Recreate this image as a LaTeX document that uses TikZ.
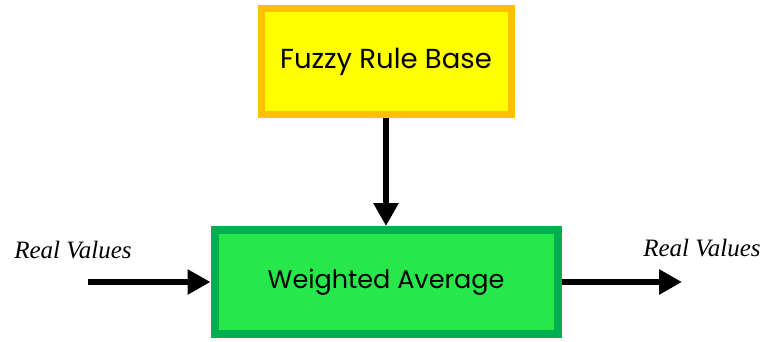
\documentclass[tikz,border=0pt]{standalone}
\usepackage{fontspec}
\setmainfont{Liberation Serif}
\newfontfamily\boxfont{Poppins}
\definecolor{RuleFill}{RGB}{255, 255, 0}
\definecolor{RuleEdge}{RGB}{255, 192, 0}
\definecolor{AvgFill}{RGB}{38, 232, 75}
\definecolor{AvgEdge}{RGB}{0, 176, 80}
\usetikzlibrary{arrows.meta, positioning}

\begin{document}
\begin{tikzpicture}[
    x=1pt, y=-1pt,
    node distance=108pt,
    block/.style={line width=7pt, align=center},
    rulebox/.style={block, draw=RuleEdge, fill=RuleFill,
                    minimum width=250pt, minimum height=106pt,
                    font=\boxfont\fontsize{27.5}{32}\selectfont},
    avgbox/.style={block, draw=AvgEdge, fill=AvgFill, line width=8pt,
                   minimum width=343pt, minimum height=104pt,
                   font=\boxfont\fontsize{25.5}{30}\selectfont},
    flow/.style={line width=6pt, -{Triangle[length=23pt, width=24pt]}},
    tag/.style={font=\itshape\fontsize{25}{30}\selectfont}
]
\useasboundingbox (0,0) rectangle (763,341);
\node[avgbox] (avg) at (386,282) {Weighted Average};
\node[rulebox, above=of avg] (rules) {Fuzzy Rule Base};
\coordinate (in) at (88,282);
\coordinate (out) at (682,282);
\node[tag] (inlabel) at (73,250) {Real Values};
\node[tag] (outlabel) at (702,248) {Real Values};
\draw[flow] (rules) -- (avg);
\draw[flow] (in) -- (avg);
\draw[flow] (avg) -- (out);
\end{tikzpicture}
\end{document}
